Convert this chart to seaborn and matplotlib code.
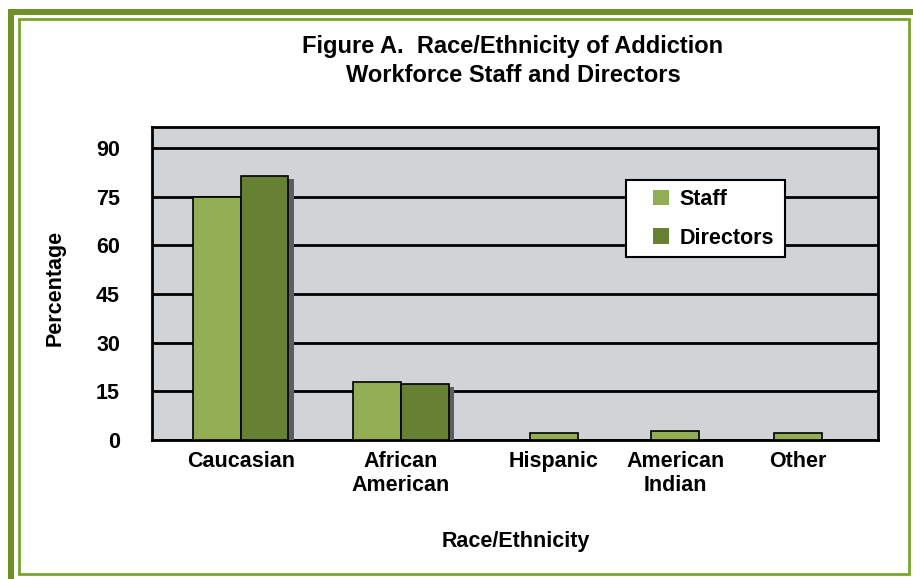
import numpy as np
import pandas as pd
import matplotlib
matplotlib.use("Agg")
import matplotlib.pyplot as plt
import matplotlib.patheffects as pe
from matplotlib.patches import Rectangle, Patch
import seaborn as sns

# ---- data ----
categories = ["Caucasian", "African\nAmerican", "Hispanic", "American\nIndian", "Other"]
staff = [75, 18, 2.2, 2.8, 2.2]
directors = [81.4, 17.2, None, None, None]
series_names = ["Staff", "Directors"]
yticks = [0, 15, 30, 45, 60, 75, 90]

# ---- layout (category centres, bar width) ----
cat_pos = [0.0, 1.0, 1.956, 2.713, 3.481]
bar_w = 0.297

rows = []
for c, p, s, d in zip(categories, cat_pos, staff, directors):
    if d is None:
        rows.append(dict(category=c, series="Staff", value=s, x=p))
    else:
        rows.append(dict(category=c, series="Staff", value=s, x=p - bar_w / 2))
        rows.append(dict(category=c, series="Directors", value=d, x=p + bar_w / 2))
df = pd.DataFrame(rows)

sns.set_theme(style="white")
plt.rcParams["font.family"] = ["Liberation Sans", "DejaVu Sans"]
plt.rcParams["font.weight"] = "bold"
for k in ["text.color", "axes.labelcolor", "xtick.color", "ytick.color"]:
    plt.rcParams[k] = "black"

staff_col = "#92AD53"
dir_col = "#678032"
palette = {"Staff": staff_col, "Directors": dir_col}

W, H = 913, 579
fig = plt.figure(figsize=(9.13, 5.79), dpi=100)
fig.patch.set_facecolor("white")
ax = fig.add_axes([152 / W, 1 - 440 / H, (878 - 152) / W, (440 - 127) / H])
ax.set_facecolor("#D0D4D7")

sns.barplot(data=df, x="x", y="value", hue="series", hue_order=series_names,
            native_scale=True, dodge=False, width=1.0, palette=palette,
            edgecolor="black", linewidth=1.2, saturation=1, ax=ax, legend=False,
            zorder=3)

for p in ax.patches:
    if matplotlib.colors.to_hex(p.get_facecolor()) == dir_col.lower():
        p.set_path_effects([pe.SimplePatchShadow(offset=(4.3, -2.2), shadow_rgbFace="#5a5e60", alpha=1.0),
                            pe.Normal()])

ax.set_xlim(-0.556, 3.981)
ax.set_ylim(0, 96.5)
ax.set_yticks(yticks)
ax.set_yticklabels([str(v) for v in yticks], fontsize=15.5, fontweight="bold")
ax.set_xticks(cat_pos)
ax.set_xticklabels(categories, fontsize=15.5, fontweight="bold", linespacing=1.15)
ax.tick_params(axis="x", length=0, pad=8)
ax.tick_params(axis="y", length=12, width=2, color="black", pad=11, direction="out")
ax.grid(axis="y", color="black", linewidth=2, zorder=1)
ax.set_axisbelow(True)
for s in ax.spines.values():
    s.set_visible(True)
    s.set_color("black")
    s.set_linewidth(2)

ax.set_xlabel("Race/Ethnicity", fontsize=15.5, fontweight="bold", labelpad=0)
ax.set_ylabel("Percentage", fontsize=15.5, fontweight="bold")
ax.xaxis.set_label_coords((516 - 152) / (878 - 152), -(542 - 440) / (440 - 127))
ax.yaxis.set_label_coords(-(152 - 55) / (878 - 152), (440 - 288) / (440 - 127))
ax.xaxis.label.set_va("center")
ax.yaxis.label.set_va("center")

# legend box
box = Rectangle(((626 - 152) / 726, (440 - 257) / 313), (785 - 626) / 726, (257 - 180) / 313,
                transform=ax.transAxes, facecolor="white", edgecolor="black",
                linewidth=1.5, zorder=5)
ax.add_patch(box)
handles = [Patch(facecolor=palette[n], edgecolor="none") for n in series_names]
leg = ax.legend(handles, series_names, loc="upper left",
                bbox_to_anchor=((653 - 152) / 726, (440 - 189) / 313),
                frameon=False, prop={"size": 15.5, "weight": "bold"},
                handlelength=0.75, handleheight=0.75,
                labelspacing=0.82, borderpad=0, handletextpad=0.5, borderaxespad=0)
leg.set_zorder(6)

fig.text(513 / W, 1 - 47 / H, "Figure A.  Race/Ethnicity of Addiction",
         ha="center", va="center", fontsize=17, fontweight="bold")
fig.text(513 / W, 1 - 75.5 / H, "Workforce Staff and Directors",
         ha="center", va="center", fontsize=17, fontweight="bold")

# green decorative frame
thick = "#6F8F27"
thin = "#7BA32F"
fig.patches.append(Rectangle((8 / W, 0), 6 / W, (H - 9) / H, transform=fig.transFigure,
                             facecolor=thick, edgecolor="none", zorder=0))
fig.patches.append(Rectangle((8 / W, 1 - 15 / H), (W - 8) / W, 6 / H, transform=fig.transFigure,
                             facecolor=thick, edgecolor="none", zorder=0))
fig.patches.append(Rectangle((18.5 / W, 1 - 574 / H), (909 - 18.5) / W, (574 - 18.5) / H,
                             transform=fig.transFigure, facecolor="none", edgecolor=thin,
                             linewidth=2, zorder=0))

fig.savefig("out.png", dpi=100)
